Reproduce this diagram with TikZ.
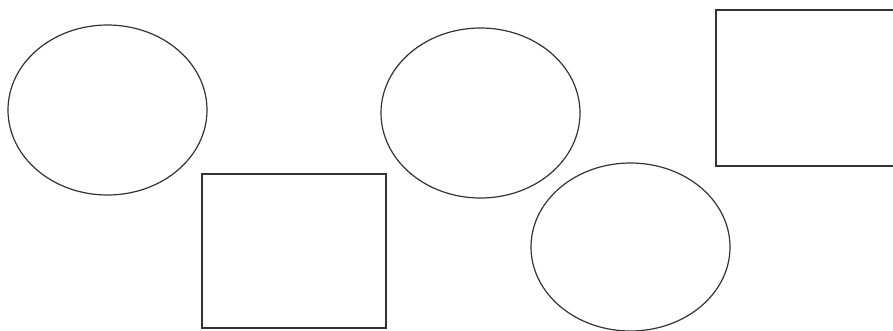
\documentclass[tikz,border=0pt]{standalone}
\usepackage{tikz}
\usetikzlibrary{shapes.geometric}
\begin{document}
\begin{tikzpicture}[x=1pt,y=-1pt]

\tikzset{oval/.style = {shape=ellipse,draw=black!80,line width=1.2pt,inner sep=0pt,minimum width=199pt}}
\tikzset{box/.style = {shape=rectangle,draw=black!80,line width=1.1pt,inner sep=0pt}}
\useasboundingbox (0,0) rectangle (893,330);
% ellipses
\node[oval,minimum height=170pt] (o1) at (107.5,110) {};
\node[oval,minimum height=170pt] (o2) at (480.5,113) {};
\node[oval,minimum height=168pt] (o3) at (630.5,247) {};
% rectangles
\node[box,minimum width=184pt,minimum height=154pt] (r1) at (294,251) {};
\node[box,minimum width=190pt,minimum height=156pt] (r2) at (811,88) {};
\end{tikzpicture}
\end{document}
